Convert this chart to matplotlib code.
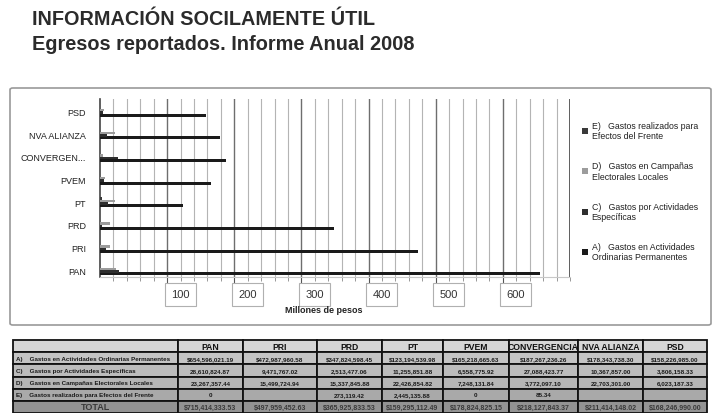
import numpy as np
import matplotlib
matplotlib.use('Agg')
import matplotlib.pyplot as plt
from matplotlib.patches import FancyBboxPatch
from matplotlib.transforms import ScaledTranslation

parties = ['PAN', 'PRI', 'PRD', 'PT', 'PVEM', 'CONVERGEN...', 'NVA ALIANZA', 'PSD']
table_parties = ['PAN', 'PRI', 'PRD', 'PT', 'PVEM', 'CONVERGENCIA', 'NVA ALIANZA', 'PSD']

# pesos (None = empty cell)
gasto_a = [654596021.19, 472987960.58, 347824598.45, 123194539.98,
           165218665.63, 187267236.26, 178343738.30, 158226985.00]
gasto_c = [28610824.87, 9471767.02, 2513477.06, 11255851.88,
           6558775.92, 27088423.77, 10367857.00, 3806158.33]
gasto_d = [23267357.44, 15499724.94, 15337845.88, 22426854.82,
           7248131.84, 3772097.10, 22703301.00, 6023187.33]
gasto_e = [0, None, 273119.42, 2445135.88, 0, 85.34, None, None]
totales = [715414333.53, 497959452.63, 365925833.53, 159295112.49,
           178824825.15, 218127843.37, 211414148.02, 168246990.00]

legend_labels = {
    'A': 'A)   Gastos en Actividades\nOrdinarias Permanentes',
    'C': 'C)   Gastos por Actividades\nEspecíficas',
    'D': 'D)   Gastos en Campañas\nElectorales Locales',
    'E': 'E)   Gastos realizados para\nEfectos del Frente',
}
row_labels = ['A)    Gastos en Actividades Ordinarias Permanentes',
              'C)    Gastos por Actividades Específicas',
              'D)    Gastos en Campañas Electorales Locales',
              'E)    Gastos realizados para Efectos del Frente',
              'TOTAL']
xtick_vals = [100, 200, 300, 400, 500, 600]

plt.rcParams['font.family'] = ['Liberation Sans', 'DejaVu Sans']

W, H = 717, 414
def fx(px):
    return px / W
def fy(py):
    return 1 - py / H

fig = plt.figure(figsize=(W / 100, H / 100), dpi=100)

# titles
fig.text(fx(32), fy(25), 'INFORMACIÓN SOCILAMENTE ÚTIL', fontsize=14.3, weight='bold',
         color='#2b2b2b', va='baseline')
fig.text(fx(32), fy(50), 'Egresos reportados. Informe Anual 2008', fontsize=14.3, weight='bold',
         color='#2b2b2b', va='baseline')

# chart frame
frame = FancyBboxPatch((fx(10), fy(326)), fx(711) - fx(10), (326 - 89) / H,
                       boxstyle='round,pad=0,rounding_size=0.004', transform=fig.transFigure,
                       facecolor='white', edgecolor='#9a9a9a', linewidth=1.2, zorder=-5)
fig.patches.append(frame)

ax = fig.add_axes([fx(100), fy(278), fx(570) - fx(100), (278 - 100) / H])
ax.patch.set_alpha(0)
y = np.arange(len(parties))
h = 0.11
to_m = lambda v: np.array([0 if x is None else x for x in v]) / 1e6
bA = ax.barh(y - 1.5 * h, to_m(gasto_a), height=h * 1.25, color='#1a1a1a', zorder=3)
bC = ax.barh(y - 0.5 * h, to_m(gasto_c), height=h, color='#2e2e2e', zorder=3)
bD = ax.barh(y + 0.5 * h, to_m(gasto_d), height=h, color='#9c9c9c', zorder=3)
bE = ax.barh(y + 1.5 * h, to_m(gasto_e), height=h, color='#3a3a3a', zorder=3)

ax.set_xlim(0, 700)
ax.set_ylim(-0.3, len(parties) - 0.45)
ax.set_yticks(y)
ax.set_yticklabels(parties, fontsize=6.5, color='#222222')
ax.tick_params(axis='y', length=0, pad=10)
ax.set_xticks(xtick_vals)
ax.set_xticks(np.arange(20, 701, 20), minor=True)
ax.set_xticklabels([str(v) for v in xtick_vals], fontsize=8, color='#333333')
ax.tick_params(axis='x', which='major', length=4, color='#555555', pad=5)
ax.tick_params(axis='x', which='minor', length=3, color='#888888')
for lab in ax.get_xticklabels():
    lab.set_bbox(dict(boxstyle='square,pad=0.55', facecolor='white', edgecolor='#b0b0b0', linewidth=0.8))
    lab.set_transform(lab.get_transform() + ScaledTranslation(0.13, 0, fig.dpi_scale_trans))
ax.grid(axis='x', which='minor', color='#b4b4b4', linewidth=0.8)
ax.grid(axis='x', which='major', color='#6e6e6e', linewidth=1.0)
ax.set_axisbelow(True)
for s in ['top', 'right']:
    ax.spines[s].set_visible(False)
ax.spines['left'].set_color('#444444')
ax.spines['left'].set_linewidth(1.2)
ax.spines['bottom'].set_color('#c8c8c8')
ax.axvline(700, color='#444444', linewidth=1.2, zorder=2)

fig.text(fx(324), fy(311), 'Millones de pesos', fontsize=6.5, weight='bold',
         color='#222222', ha='center', va='center')

fig.legend([bE, bD, bC, bA],
           [legend_labels['E'], legend_labels['D'], legend_labels['C'], legend_labels['A']],
           loc='upper left', bbox_to_anchor=(fx(574), fy(114)), frameon=False,
           fontsize=6.3, handlelength=0.7, handleheight=0.7, handletextpad=0.4,
           labelspacing=2.4, labelcolor='#222222')

# table
def fmt(v, dollar=False):
    if v is None:
        return ''
    if v == 0:
        return '0'
    s = f'{v:,.2f}'
    return '$' + s if dollar else s

cell_text = [
    [row_labels[0]] + [fmt(v, True) for v in gasto_a],
    [row_labels[1]] + [fmt(v) for v in gasto_c],
    [row_labels[2]] + [fmt(v) for v in gasto_d],
    [row_labels[3]] + [fmt(v) for v in gasto_e],
    [row_labels[4]] + [fmt(v, True) for v in totales],
]
col_w = np.array([165, 65, 74, 65, 61, 66, 69, 65, 64], dtype=float)
tax = fig.add_axes([fx(13), fy(414), fx(707) - fx(13), (414 - 341) / H])
tax.axis('off')
tbl = tax.table(cellText=cell_text, colLabels=[''] + table_parties,
                colWidths=list(col_w / col_w.sum()), cellLoc='center', bbox=[0, 0, 1, 1])
tbl.auto_set_font_size(False)
row_colors = ['#d6d6d6', '#c4c4c4', '#bcbcbc', '#b6b6b6', '#a9a9a9', '#939393']
for (r, c), cell in tbl.get_celld().items():
    cell.set_edgecolor('#111111')
    cell.set_linewidth(1.3)
    cell.set_facecolor(row_colors[r])
    cell.PAD = 0.02
    txt = cell.get_text()
    if r == 0:
        txt.set_fontsize(6.2)
        txt.set_fontweight('bold')
        txt.set_color('#111111')
    elif r == 5:
        txt.set_fontsize(5 if c > 0 else 6.5)
        txt.set_fontweight('bold')
        txt.set_color('#3a3a3a')
    else:
        txt.set_fontsize(4.5)
        txt.set_fontweight('bold')
        txt.set_color('#1a1a1a')
    if c == 0 and 1 <= r <= 4:
        cell._loc = 'left'
        txt.set_horizontalalignment('left')

fig.savefig('out.png', dpi=100)
